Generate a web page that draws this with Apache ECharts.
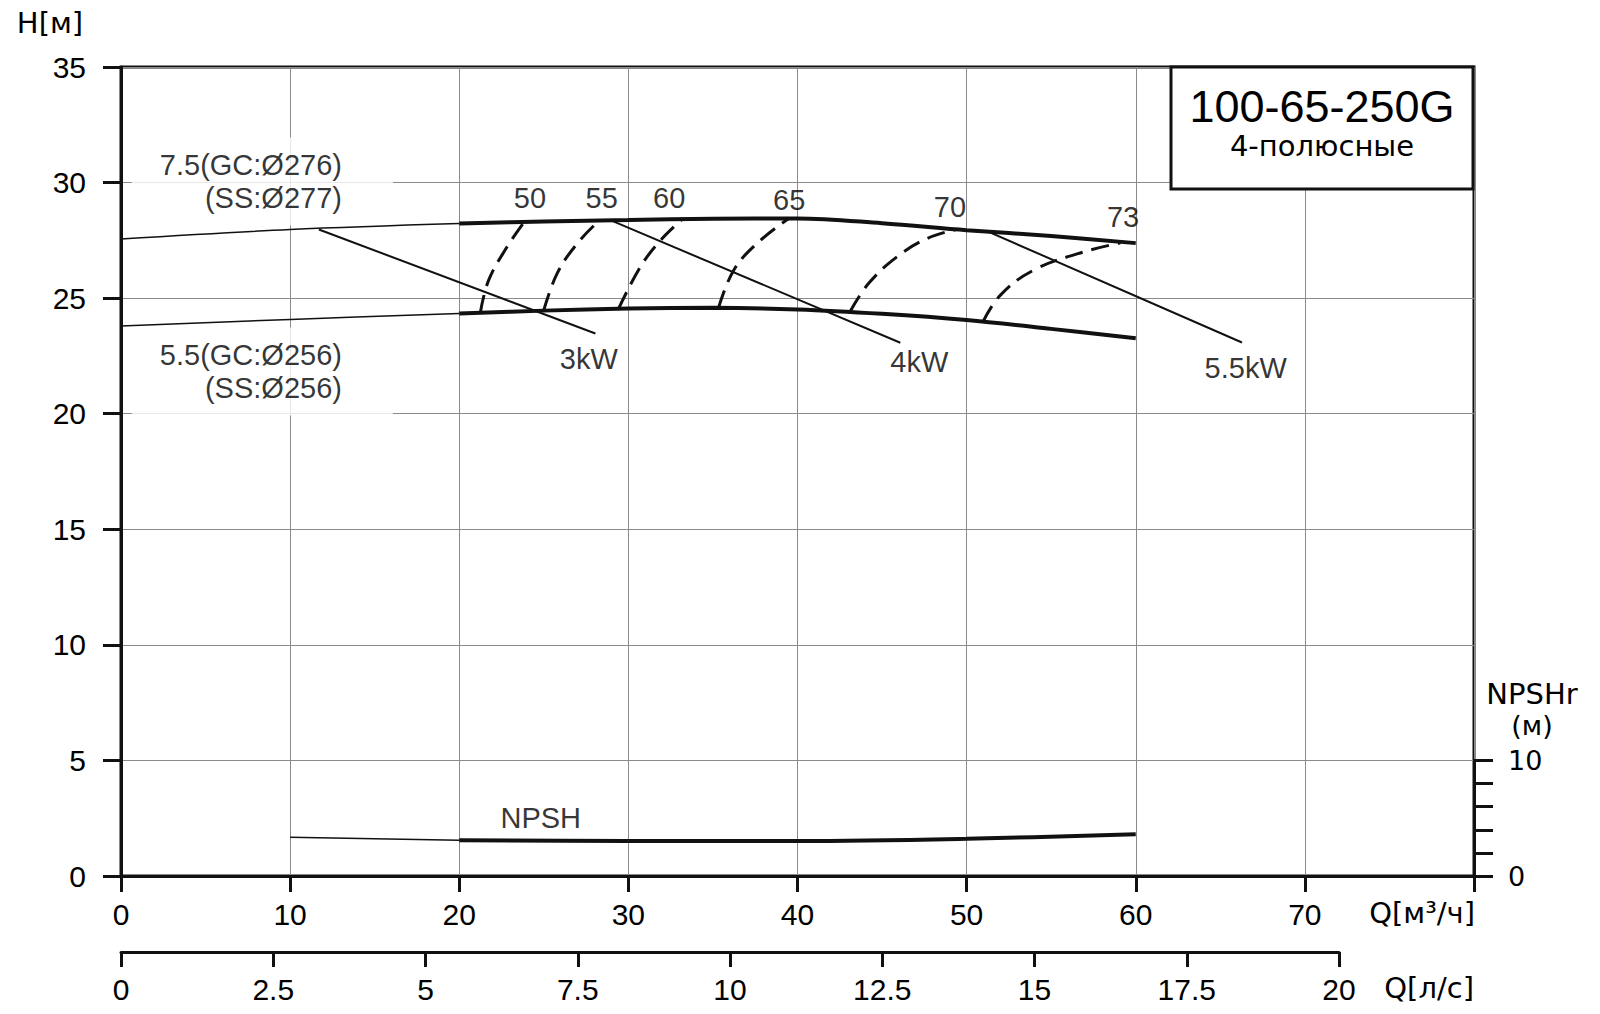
<!DOCTYPE html>
<html>
<head>
<meta charset="utf-8">
<script src="https://cdn.jsdelivr.net/npm/echarts@6/dist/echarts.min.js"></script>
<style>
html,body{margin:0;padding:0;background:#fff;}
#chart{width:1600px;height:1014px;}
</style>
</head>
<body>
<div id="chart"></div>
<script>
// ---------- data (Q in m3/h, H in m, NPSH in m) ----------
const headUpperThin = [[0,27.56],[10,27.97],[20,28.23]];
const headUpper = [[20,28.23],[25,28.32],[30,28.38],[35,28.44],[40,28.45],[45,28.24],[50,27.94],[55,27.69],[60,27.38]];
const headLowerThin = [[0,23.79],[10,24.08],[20,24.34]];
const headLower = [[20,24.34],[25,24.46],[30,24.55],[35,24.58],[40,24.51],[45,24.32],[50,24.05],[55,23.67],[60,23.26]];

const power3 = [[11.7,27.97],[28.05,23.47]];
const power4 = [[29.04,28.34],[46.08,23.07]];
const power55 = [[51.2,27.9],[66.28,23.08]];

const eff50 = [[21.25,24.38],[21.74,25.78],[22.83,27.22],[23.81,28.27]];
const eff55 = [[25.0,24.48],[25.79,26.07],[26.97,27.36],[28.25,28.34]];
const eff60 = [[29.43,24.56],[30.71,26.35],[31.9,27.5],[33.18,28.41]];
const eff65 = [[35.34,24.6],[36.23,26.21],[37.61,27.37],[39.48,28.45]];
const eff70 = [[43.13,24.44],[44.21,25.64],[45.89,26.79],[47.66,27.58],[49.39,27.97]];
const eff73 = [[50.97,23.98],[52.0,25.13],[53.96,26.21],[56.92,27.0],[59.09,27.39]];

const npshThin = [[10,3.35],[20,3.1]];
const npsh = [[20,3.1],[30,3.02],[40,3.02],[50,3.22],[60,3.62]];

const effLabels = [['50',24.21,29.31],['55',28.45,29.31],['60',32.44,29.31],['65',39.54,29.21],['70',49.04,28.92],['73',59.28,28.49]];
const powerLabels = [['3kW',27.69,22.35],['4kW',47.23,22.22],['5.5kW',66.53,21.95],['NPSH',24.85,2.49]];
const curveLabels = [['7.5(GC:Ø276)\n(SS:Ø277)',16.11,30.03],['5.5(GC:Ø256)\n(SS:Ø256)',16.11,21.81]];

const qTicks = {min:0,max:80,interval:10};
const lsTicks = {min:0,max:20,interval:2.5};
const hTicks = {min:0,max:35,interval:5};
const npshTicks = {min:0,max:10,interval:2,shown:[0,10]};

// ---------- styles ----------
const INK = '#111';
const TXT = '#000';
const FONT = 'Liberation Sans';
const FONT2 = 'DejaVu Sans';
const GRIDC = '#8a8a8a';

const chart = echarts.init(document.getElementById('chart'), null, {renderer:'svg'});

function lineS(data, width, extra){
  return Object.assign({
    type:'line', data:data, xAxisIndex:0, yAxisIndex:0, showSymbol:false, symbol:'none',
    smooth:0.35, lineStyle:{color:INK, width:width}, silent:true, z:5
  }, extra||{});
}
function dashS(data){
  return lineS(data, 3, {lineStyle:{color:INK, width:3, type:[18,9]}, smooth:0.4});
}
function labelS(items, extraLabel){
  return {
    type:'scatter', xAxisIndex:0, yAxisIndex:0, symbolSize:1, itemStyle:{color:'rgba(0,0,0,0)'}, z:4, silent:true,
    data: items.map(d=>({value:[d[1],d[2]], label:{formatter:d[0]}})),
    label: Object.assign({show:true, position:[0,0], align:'center', verticalAlign:'middle',
      fontFamily:FONT, fontSize:29, color:TXT}, extraLabel||{})
  };
}

const option = {
  animation:false,
  backgroundColor:'#fff',
  grid:[
    {left:121, top:67, width:1353, height:809, show:true, borderColor:INK, borderWidth:3, backgroundColor:'transparent'},
    {left:121, top:900, width:1218, height:52},
    {left:121, top:760.4, width:1353, height:115.6}
  ],
  xAxis:[
    {gridIndex:0, type:'value', min:qTicks.min, max:qTicks.max, interval:qTicks.interval,
      axisLine:{show:true, onZero:false, lineStyle:{color:INK, width:3}},
      axisTick:{show:true, inside:false, length:16, lineStyle:{color:INK, width:3}},
      axisLabel:{margin:23, fontFamily:FONT, fontSize:30, color:TXT, formatter:v=> v===qTicks.max ? '' : String(v)},
      splitLine:{show:true, lineStyle:{color:GRIDC, width:1}}},
    {gridIndex:1, type:'value', min:lsTicks.min, max:lsTicks.max, interval:lsTicks.interval,
      axisLine:{show:true, onZero:false, lineStyle:{color:INK, width:3}},
      axisTick:{show:true, inside:false, length:15, lineStyle:{color:INK, width:3}},
      axisLabel:{margin:22, fontFamily:FONT, fontSize:30, color:TXT, formatter:v=>String(v)},
      splitLine:{show:false}},
    {gridIndex:2, type:'value', min:qTicks.min, max:qTicks.max, show:false}
  ],
  yAxis:[
    {gridIndex:0, type:'value', min:hTicks.min, max:hTicks.max, interval:hTicks.interval,
      axisLine:{show:true, onZero:false, lineStyle:{color:INK, width:3}},
      axisTick:{show:true, inside:false, length:18, lineStyle:{color:INK, width:3}},
      axisLabel:{margin:35, fontFamily:FONT, fontSize:30, color:TXT},
      splitLine:{show:true, lineStyle:{color:GRIDC, width:1}}},
    {gridIndex:1, type:'value', min:0, max:1, show:false},
    {gridIndex:2, type:'value', position:'right', min:npshTicks.min, max:npshTicks.max, interval:npshTicks.interval,
      axisLine:{show:true, onZero:false, lineStyle:{color:INK, width:3}},
      axisTick:{show:true, inside:false, length:19, lineStyle:{color:INK, width:3}},
      axisLabel:{margin:34, fontFamily:FONT2, fontSize:27, color:TXT, formatter:v=> npshTicks.shown.indexOf(v)>=0 ? String(v) : ''},
      splitLine:{show:false}}
  ],
  series:[
    labelS(curveLabels, {align:'right', lineHeight:33, backgroundColor:'#fff', padding:[12,51,10,28]}),
    lineS(headUpperThin, 1.5),
    lineS(headUpper, 4),
    lineS(headLowerThin, 1.5),
    lineS(headLower, 4),
    lineS(power3, 2, {smooth:false}),
    lineS(power4, 2, {smooth:false}),
    lineS(power55, 2, {smooth:false}),
    dashS(eff50), dashS(eff55), dashS(eff60), dashS(eff65), dashS(eff70), dashS(eff73),
    lineS(npshThin, 1.5, {xAxisIndex:2, yAxisIndex:2, smooth:false}),
    lineS(npsh, 4, {xAxisIndex:2, yAxisIndex:2}),
    labelS(effLabels),
    labelS(powerLabels)
  ],
  graphic:[
    {type:'rect', z:100, shape:{x:1171, y:67, width:302, height:122}, style:{fill:'#fff', stroke:INK, lineWidth:3}},
    {type:'text', z:101, x:1322, y:106, style:{text:'100-65-250G', font:'45px "Liberation Sans"', textAlign:'center', textVerticalAlign:'middle', fill:TXT}},
    {type:'text', z:101, x:1322, y:146, style:{text:'4-полюсные', font:'29px "DejaVu Sans"', textAlign:'center', textVerticalAlign:'middle', fill:TXT}},
    {type:'text', z:101, x:50, y:23, style:{text:'H[м]', font:'29px "DejaVu Sans"', textAlign:'center', textVerticalAlign:'middle', fill:TXT}},
    {type:'text', z:101, x:1475, y:913, style:{text:'Q[м³/ч]', font:'29px "DejaVu Sans"', textAlign:'right', textVerticalAlign:'middle', fill:TXT}},
    {type:'text', z:101, x:1474, y:988, style:{text:'Q[л/с]', font:'29px "DejaVu Sans"', textAlign:'right', textVerticalAlign:'middle', fill:TXT}},
    {type:'text', z:101, x:1532, y:694, style:{text:'NPSHr', font:'29px "DejaVu Sans"', textAlign:'center', textVerticalAlign:'middle', fill:TXT}},
    {type:'text', z:101, x:1532, y:725, style:{text:'(м)', font:'27px "DejaVu Sans"', textAlign:'center', textVerticalAlign:'middle', fill:TXT}}
  ]
};
chart.setOption(option);
</script>
</body>
</html>
